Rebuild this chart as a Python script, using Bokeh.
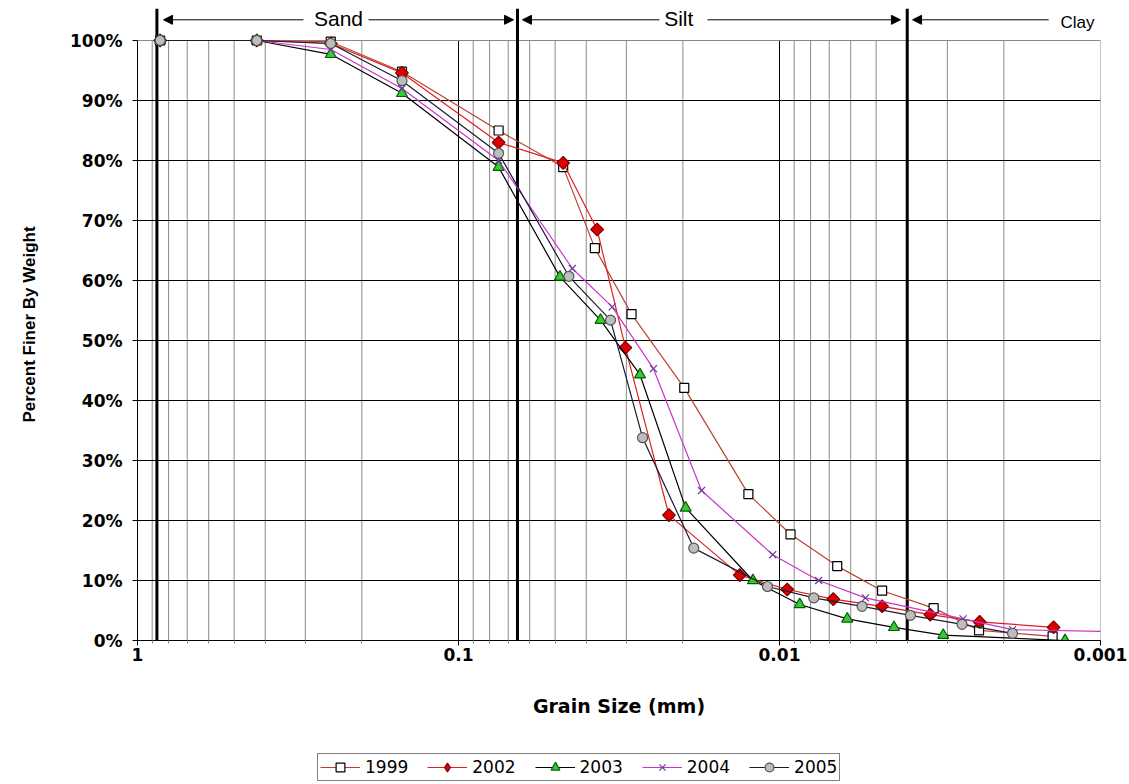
import math
from bokeh.plotting import figure
from bokeh.layouts import column
from bokeh.models import (Range1d, FixedTicker, CustomJSTickFormatter, Arrow, NormalHead,
                          Label, Legend, LegendItem)
from bokeh.embed import file_html
from bokeh.resources import INLINE

# ---------------- data ----------------
series_names = ["1999", "2002", "2003", "2004", "2005"]

size_1999 = [0.85, 0.425, 0.25, 0.15, 0.075, 0.0472, 0.0376, 0.0289, 0.0198, 0.0125,
             0.00924, 0.00661, 0.00479, 0.00331, 0.00239, 0.00141]
pct_1999 = [100, 100, 99.8, 94.8, 85.0, 78.9, 65.4, 54.4, 42.1, 24.4,
            17.7, 12.4, 8.3, 5.4, 1.7, 0.7]

size_2002 = [0.85, 0.425, 0.25, 0.15, 0.075, 0.0472, 0.0370, 0.0302, 0.0221, 0.0133,
             0.00946, 0.00680, 0.00479, 0.00339, 0.00238, 0.00140]
pct_2002 = [100, 100, 99.5, 94.6, 83.0, 79.6, 68.5, 48.8, 20.9, 10.9,
            8.5, 6.9, 5.7, 4.3, 3.1, 2.2]

size_2003 = [0.85, 0.425, 0.25, 0.15, 0.075, 0.0483, 0.0361, 0.0272, 0.0196, 0.0121,
             0.00865, 0.00615, 0.00440, 0.00309, 0.00129]
pct_2003 = [100, 100, 97.7, 91.2, 78.9, 60.6, 53.4, 44.3, 22.1, 10.0,
            6.0, 3.6, 2.2, 0.9, 0.0]

size_2004 = [0.85, 0.425, 0.25, 0.15, 0.075, 0.0442, 0.0332, 0.0247, 0.0175, 0.0105,
             0.00755, 0.0054, 0.00268, 0.00188, 0.00095]
pct_2004 = [100, 100, 98.5, 92.0, 80.0, 62.0, 55.6, 45.3, 25.0, 14.3,
            10.0, 7.1, 3.6, 1.8, 1.5]

size_2005 = [0.85, 0.425, 0.25, 0.15, 0.075, 0.0453, 0.0336, 0.0267, 0.0185, 0.0109,
             0.00782, 0.00553, 0.00391, 0.00270, 0.00188]
pct_2005 = [100, 100, 99.5, 93.3, 81.2, 60.7, 53.4, 33.8, 15.4, 9.0,
            7.1, 5.7, 4.2, 2.7, 1.2]

# soil class boundaries (mm) and class names
boundary_sizes = [0.87, 0.0655, 0.004]
class_names = ["Sand", "Silt", "Clay"]

x_major_ticks = [1, 0.1, 0.01, 0.001]
x_tick_labels = ["1", "0.1", "0.01", "0.001"]
x_minor_mult = [0.9, 0.8, 0.7, 0.6, 0.5, 0.4, 0.3, 0.2]
y_ticks = [0, 10, 20, 30, 40, 50, 60, 70, 80, 90, 100]
y_tick_labels = ["0%", "10%", "20%", "30%", "40%", "50%", "60%", "70%", "80%", "90%", "100%"]

# ---------------- styling ----------------
Y_TOP = 632 / 6.0  # frame extends above 100% for the class annotations
TICK_FONT = "DejaVu Sans"
W = 1129
H_MAIN = 740
H_LEG = 44

p = figure(width=W, height=H_MAIN, x_axis_type="log",
           x_range=Range1d(1, 0.001), y_range=Range1d(0, Y_TOP),
           output_backend="svg", toolbar_location=None,
           min_border_left=137, min_border_right=29, min_border_top=8,
           min_border_bottom=H_MAIN - 640)
p.outline_line_color = None
p.background_fill_color = "white"
p.border_fill_color = "white"

minor_ticks = [m * 10 ** -k for k in range(3) for m in x_minor_mult]

# grids
p.xgrid.visible = False
p.ygrid.ticker = FixedTicker(ticks=y_ticks[1:-1])
p.ygrid.grid_line_color = "#000000"
p.ygrid.grid_line_width = 1

p.segment(x0=minor_ticks, y0=0, x1=minor_ticks, y1=100,
          line_color="#8a8a8a", line_width=1, level="image")
p.segment(x0=x_major_ticks[1:3], y0=0, x1=x_major_ticks[1:3], y1=100,
          line_color="#000000", line_width=1, level="image")
p.segment(x0=[x_major_ticks[-1]], y0=0, x1=[x_major_ticks[-1]], y1=100,
          line_color="#8a8a8a", line_width=1, level="image")
p.segment(x0=[x_major_ticks[0]], y0=100, x1=[x_major_ticks[-1]], y1=100,
          line_color="#8a8a8a", line_width=1, level="image")

# x axis
p.xaxis.ticker = FixedTicker(ticks=x_major_ticks, minor_ticks=minor_ticks)
p.xaxis.formatter = CustomJSTickFormatter(
    args=dict(tvals=x_major_ticks, tlabels=x_tick_labels),
    code="""
    for (let i = 0; i < tvals.length; i++) {
        if (Math.abs(Math.log10(tvals[i]) - Math.log10(tick)) < 1e-6) return tlabels[i];
    }
    return "";
    """)
p.xaxis.axis_label = "Grain Size (mm)"
p.xaxis.axis_label_text_font = TICK_FONT
p.xaxis.axis_label_text_font_style = "bold"
p.xaxis.axis_label_text_font_size = "19px"
p.xaxis.axis_label_text_color = "black"
p.xaxis.axis_label_standoff = 31
p.xaxis.major_label_text_font = TICK_FONT
p.xaxis.major_label_text_font_style = "bold"
p.xaxis.major_label_text_font_size = "17px"
p.xaxis.major_label_text_color = "black"
p.xaxis.major_label_standoff = 2
p.xaxis.major_tick_out = 5
p.xaxis.major_tick_in = 0
p.xaxis.minor_tick_out = 3
p.xaxis.minor_tick_in = 0
p.xaxis.minor_tick_line_color = "#8a8a8a"
p.xaxis.axis_line_color = "black"
p.xaxis.major_tick_line_color = "black"

# y axis
p.yaxis.ticker = FixedTicker(ticks=y_ticks)
p.yaxis.bounds = (0, 100)
p.yaxis.formatter = CustomJSTickFormatter(
    args=dict(tvals=y_ticks, tlabels=y_tick_labels),
    code="""
    for (let i = 0; i < tvals.length; i++) {
        if (Math.abs(tvals[i] - tick) < 1e-6) return tlabels[i];
    }
    return "";
    """)
p.yaxis.axis_label = "Percent Finer By Weight"
p.yaxis.axis_label_text_font = "Liberation Sans"
p.yaxis.axis_label_text_font_style = "bold"
p.yaxis.axis_label_text_font_size = "17px"
p.yaxis.axis_label_text_color = "black"
p.yaxis.axis_label_standoff = 28
p.yaxis.major_label_text_font = TICK_FONT
p.yaxis.major_label_text_font_style = "bold"
p.yaxis.major_label_text_font_size = "17px"
p.yaxis.major_label_text_color = "black"
p.yaxis.major_label_standoff = 10
p.yaxis.major_tick_out = 5
p.yaxis.major_tick_in = 0
p.yaxis.minor_tick_line_color = None
p.yaxis.axis_line_color = "black"

# class boundaries
p.segment(x0=boundary_sizes, y0=0, x1=boundary_sizes, y1=Y_TOP,
          line_color="black", line_width=3)

# class annotations (arrows + names)
ARROW_Y = 103.45
def arrow(x0, x1):
    p.add_layout(Arrow(end=NormalHead(size=9, fill_color="black", line_color="black"),
                       x_start=x0, y_start=ARROW_Y, x_end=x1, y_end=ARROW_Y,
                       line_color="black", line_width=1))

arrow(0.304, 0.83)
arrow(0.1907, 0.0674)
arrow(0.02365, 0.0632)
arrow(0.01676, 0.0042)
arrow(0.00145, 0.00385)

for name, xc, yc, fs in [(class_names[0], 0.2365, 103.6, "21px"),
                         (class_names[1], 0.0206, 103.6, "21px"),
                         (class_names[2], 0.00118, 102.95, "17px")]:
    p.add_layout(Label(x=xc, y=yc, text=name, text_align="center", text_baseline="middle",
                       text_font="Liberation Sans", text_font_size=fs, text_color="black"))

# series
styles = [
    dict(line="#B8442F", marker="square", leg_marker="square", size=9, angle=0,
         fill="white", edge="black"),
    dict(line="#E01E1E", marker="square", leg_marker="diamond", size=9, angle=math.pi / 4,
         fill="#DD0000", edge="#7A0000"),
    dict(line="#000000", marker="triangle", leg_marker="triangle", size=11, angle=0,
         fill="#33CC33", edge="#0A5A0A"),
    dict(line="#CC33CC", marker="x", leg_marker="x", size=10, angle=0,
         fill="#6A3D9A", edge="#6A3D9A"),
    dict(line="#1A1A33", marker="circle", leg_marker="circle", size=10, angle=0,
         fill="#BDBDBD", edge="#555555"),
]
sizes = [size_1999, size_2002, size_2003, size_2004, size_2005]
pcts = [pct_1999, pct_2002, pct_2003, pct_2004, pct_2005]

for xs, ys, st in zip(sizes, pcts, styles):
    p.line(xs, ys, line_color=st["line"], line_width=1.2)
    p.scatter(xs, ys, marker=st["marker"], size=st["size"], angle=st["angle"],
              fill_color=st["fill"], line_color=st["edge"], line_width=1.2)

# ---------------- legend strip below the chart ----------------
pl = figure(width=W, height=H_LEG, x_range=Range1d(0, 1), y_range=Range1d(0, 1),
            output_backend="svg", toolbar_location=None,
            min_border_left=137, min_border_right=29, min_border_top=0, min_border_bottom=0)
pl.axis.visible = False
pl.grid.visible = False
pl.outline_line_color = None
pl.background_fill_color = "white"
pl.border_fill_color = "white"

items = []
for name, st in zip(series_names, styles):
    # sample glyphs placed outside the strip's visible range: only the legend shows them
    lr = pl.line(x=[5, 6], y=[5, 5], line_color=st["line"], line_width=1.2)
    sr = pl.scatter(x=[5], y=[5], marker=st["leg_marker"], size=st["size"],
                    fill_color=st["fill"], line_color=st["edge"], line_width=1.2)
    items.append(LegendItem(label=name, renderers=[lr, sr]))

legend = Legend(items=items, orientation="horizontal", location=(180, 3),
                label_text_font=TICK_FONT, label_text_font_size="17px",
                label_text_color="black", glyph_width=40, glyph_height=22,
                label_standoff=5, spacing=19, padding=2, margin=0,
                border_line_color="black", border_line_width=1,
                background_fill_color="white", background_fill_alpha=1)
pl.add_layout(legend, "center")

layout = column(p, pl, spacing=0)
open("out.html", "w").write(file_html(layout, INLINE))
